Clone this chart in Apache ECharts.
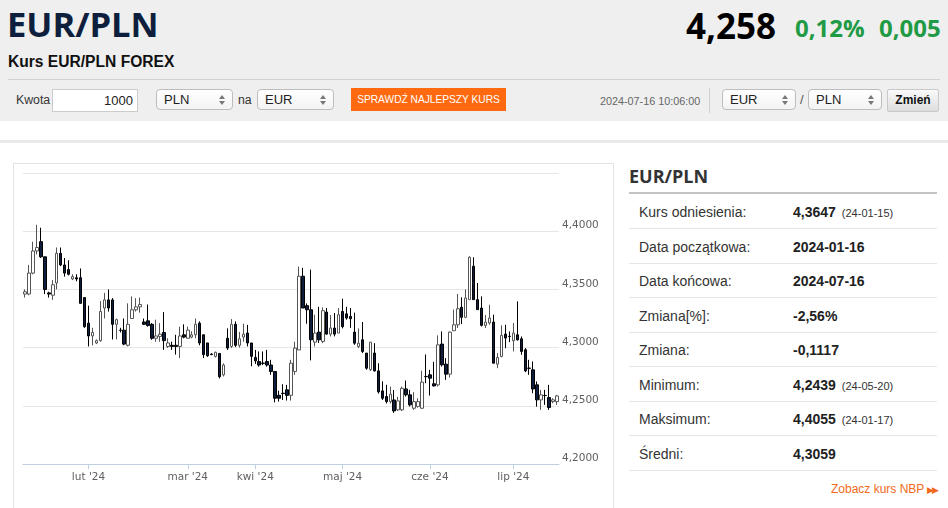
<!DOCTYPE html>
<html><head><meta charset="utf-8">
<script src="https://cdn.jsdelivr.net/npm/echarts@6/dist/echarts.min.js"></script>
<style>
*{box-sizing:border-box;margin:0;padding:0}
body{width:948px;height:508px;overflow:hidden;background:#fff;font-family:"Liberation Sans",Arial,sans-serif;position:relative;color:#333}
.abs{position:absolute;white-space:nowrap}
#head{position:absolute;left:0;top:0;width:948px;height:121px;background:#efefef}
.sel{position:absolute;height:21px;border:1px solid #bdbdbd;border-radius:4px;background:linear-gradient(#fff,#f3f3f3);font-size:13px;line-height:19px;padding-left:7px;color:#222}
.sel .ar{position:absolute;right:7px;top:5px;width:0;height:0;border-left:3px solid transparent;border-right:3px solid transparent;border-bottom:4px solid #777}
.sel .ar2{position:absolute;right:7px;top:11px;width:0;height:0;border-left:3px solid transparent;border-right:3px solid transparent;border-top:4px solid #777}
.row{position:absolute;left:629px;width:308px;height:34px;border-bottom:1px solid #e6e6e6}
.row .l{position:absolute;left:10px;top:0;line-height:34px;font-size:14px;color:#333}
.row .v{position:absolute;left:164px;top:0;line-height:34px;font-size:14px;font-weight:bold;color:#222}
.row .v small{font-size:11px;font-weight:normal;margin-left:6px;color:#333}
</style></head>
<body>
<div id="head"></div>
<div class="abs" style="left:7px;top:-2px;font-family:'Open Sans';font-weight:700;font-size:34.5px;color:#0d1f3c;line-height:52px">EUR/PLN</div>
<div class="abs" style="left:8px;top:53px;font-weight:bold;font-size:15.6px;color:#111;line-height:18px">Kurs EUR/PLN FOREX</div>
<div class="abs" style="left:686px;top:2px;font-family:'Open Sans';font-weight:700;font-size:35px;color:#000;line-height:48px">4,258</div>
<div class="abs" style="left:795px;top:11px;font-family:'Open Sans';font-weight:700;font-size:24px;color:#1f9a45;line-height:34px">0,12%</div>
<div class="abs" style="left:879px;top:11px;font-family:'Open Sans';font-weight:700;font-size:24px;color:#1f9a45;line-height:34px">0,005</div>
<div class="abs" style="left:8px;top:79px;width:932px;height:1px;background:#d2d2d2"></div>
<div class="abs" style="left:16px;top:92px;font-size:12.3px;line-height:16px;color:#333">Kwota</div>
<div class="abs" style="left:52px;top:89px;width:86px;height:23px;background:#fff;border:1px solid #ccc;font-size:13px;line-height:21px;text-align:right;padding-right:4px;color:#222">1000</div>
<div class="sel" style="left:156px;top:89px;width:77px">PLN<span class="ar"></span><span class="ar2"></span></div>
<div class="abs" style="left:238px;top:92px;font-size:12.3px;line-height:16px;color:#333">na</div>
<div class="sel" style="left:257px;top:89px;width:77px">EUR<span class="ar"></span><span class="ar2"></span></div>
<div class="abs" style="left:351px;top:88px;width:155px;height:23px;background:#ff6a10;color:#fff;font-size:10.2px;line-height:23px;text-align:center">SPRAWDŹ NAJLEPSZY KURS</div>
<div class="abs" style="left:600px;top:94px;font-size:10.8px;line-height:14px;color:#666">2024-07-16 10:06:00</div>
<div class="abs" style="left:709px;top:88px;width:1px;height:25px;background:#d0d0d0"></div>
<div class="sel" style="left:722px;top:89px;width:74px">EUR<span class="ar"></span><span class="ar2"></span></div>
<div class="abs" style="left:800px;top:91px;font-size:13px;line-height:18px;color:#555">/</div>
<div class="sel" style="left:808px;top:89px;width:74px">PLN<span class="ar"></span><span class="ar2"></span></div>
<div class="abs" style="left:887px;top:89px;width:52px;height:23px;border:1px solid #c8c8c8;border-radius:2px;background:linear-gradient(#fafafa,#dedede);font-size:12px;font-weight:bold;line-height:21px;text-align:center;color:#111">Zmień</div>
<div class="abs" style="left:0;top:140px;width:948px;height:3px;background:#e9e9e9"></div>
<div class="abs" style="left:13px;top:163px;width:601px;height:360px;border:1px solid #e4e4e4"></div>
<div id="chart" class="abs" style="left:14px;top:164px;width:598px;height:344px"></div>

<div class="abs" style="left:629px;top:163px;font-family:'Open Sans';font-weight:700;font-size:18px;line-height:26px;color:#333">EUR/PLN</div>
<div class="abs" style="left:629px;top:192px;width:308px;height:2px;background:#c4c4c4"></div>
<div id="rows"></div>
<div class="abs" style="left:831px;top:481px;font-size:12px;line-height:16px;color:#f26a1b">Zobacz kurs NBP <span style="font-size:9px;letter-spacing:-2px">▶▶</span></div>

<script>
// candles: [open, close, low, high]
const candles = [
[4.346,4.348,4.343,4.350],[4.346,4.364,4.345,4.371],[4.364,4.383,4.363,4.391],[4.383,4.386,4.380,4.4055],
[4.391,4.378,4.377,4.403],[4.378,4.350,4.346,4.378],[4.347,4.346,4.343,4.348],[4.345,4.354,4.341,4.358],
[4.3555,4.381,4.350,4.386],[4.381,4.371,4.370,4.386],[4.371,4.364,4.361,4.377],[4.367,4.363,4.362,4.375],
[4.359,4.361,4.358,4.363],[4.360,4.359,4.357,4.363],[4.360,4.338,4.338,4.368],[4.343,4.318,4.317,4.343],
[4.321,4.310,4.301,4.336],[4.310,4.313,4.302,4.317],[4.304,4.306,4.303,4.307],[4.306,4.331,4.305,4.340],
[4.334,4.341,4.325,4.347],[4.341,4.334,4.331,4.350],[4.341,4.320,4.307,4.3425],[4.320,4.324,4.307,4.325],
[4.315,4.3148,4.313,4.317],[4.315,4.303,4.302,4.325],[4.302,4.320,4.301,4.338],[4.325,4.3325,4.325,4.344],
[4.3325,4.335,4.331,4.3425],[4.335,4.337,4.330,4.343],[4.322,4.320,4.3195,4.325],[4.323,4.319,4.318,4.337],
[4.320,4.308,4.3067,4.321],[4.308,4.310,4.305,4.324],[4.3096,4.3115,4.305,4.321],[4.313,4.306,4.298,4.3305],
[4.301,4.304,4.2996,4.308],[4.302,4.301,4.298,4.305],[4.302,4.301,4.294,4.311],[4.301,4.310,4.291,4.318],
[4.311,4.309,4.308,4.320],[4.308,4.315,4.308,4.318],[4.309,4.311,4.308,4.314],[4.311,4.320,4.308,4.325],
[4.321,4.304,4.302,4.3225],[4.311,4.294,4.291,4.311],[4.304,4.293,4.292,4.304],[4.2945,4.294,4.2935,4.295],
[4.2925,4.296,4.2915,4.2965],[4.295,4.275,4.2735,4.295],[4.2766,4.285,4.2752,4.2865],[4.308,4.2996,4.298,4.3165],
[4.301,4.320,4.2996,4.3245],[4.320,4.302,4.3005,4.3225],[4.302,4.3075,4.300,4.3135],[4.309,4.3116,4.305,4.3205],
[4.3125,4.304,4.301,4.3195],[4.304,4.2925,4.284,4.304],[4.2915,4.2886,4.286,4.298],[4.288,4.285,4.2836,4.2967],
[4.2867,4.2865,4.285,4.2967],[4.288,4.285,4.2836,4.298],[4.285,4.2795,4.2766,4.2895],[4.2795,4.2565,4.253,4.2795],
[4.259,4.2565,4.2536,4.263],[4.2608,4.2605,4.255,4.2685],[4.2637,4.259,4.2545,4.268],[4.259,4.2866,4.2545,4.2895],
[4.2795,4.2996,4.2766,4.305],[4.298,4.3613,4.298,4.3696],[4.3613,4.334,4.334,4.3685],[4.336,4.3325,4.3205,4.338],
[4.3325,4.3067,4.289,4.3670],[4.3047,4.3125,4.301,4.3283],[4.3133,4.3067,4.304,4.335],[4.3053,4.3317,4.3038,4.3346],
[4.3305,4.3116,4.311,4.334],[4.3116,4.3168,4.3096,4.328],[4.3168,4.3116,4.3096,4.3297],[4.3125,4.3283,4.3125,4.334],
[4.331,4.318,4.3165,4.342],[4.329,4.3254,4.324,4.335],[4.3268,4.3248,4.317,4.334],[4.3133,4.3038,4.3024,4.330],
[4.301,4.3038,4.2996,4.3165],[4.3067,4.2967,4.2953,4.322],[4.2953,4.2823,4.281,4.2953],[4.281,4.3047,4.280,4.3047],
[4.2953,4.280,4.2795,4.3038],[4.280,4.262,4.2605,4.2866],[4.2628,4.2565,4.255,4.271],[4.258,4.2536,4.252,4.268],
[4.2536,4.260,4.252,4.2665],[4.255,4.2456,4.2439,4.2636],[4.2465,4.2542,4.2456,4.2577],[4.2465,4.265,4.2456,4.2665],
[4.2645,4.2594,4.258,4.2717],[4.2594,4.2508,4.2494,4.2637],[4.2479,4.2536,4.2465,4.2617],[4.2493,4.2536,4.2485,4.2565],
[4.2479,4.2703,4.2473,4.2801],[4.2752,4.2750,4.2694,4.2941],[4.2766,4.2737,4.2588,4.2809],[4.2689,4.2671,4.2666,4.2878],
[4.268,4.3024,4.2666,4.3105],[4.303,4.2852,4.2837,4.3139],[4.2858,4.2772,4.2723,4.291],[4.2772,4.3133,4.2743,4.3139],
[4.3145,4.3196,4.3145,4.3326],[4.3196,4.3334,4.3168,4.3461],[4.3346,4.326,4.3202,4.3432],[4.326,4.3426,4.3254,4.35],
[4.3412,4.3776,4.3412,4.3785],[4.3699,4.3412,4.3412,4.3776],[4.3412,4.3326,4.3326,4.3555],[4.334,4.3191,4.3182,4.344],
[4.3191,4.3219,4.3168,4.328],[4.3211,4.3254,4.3196,4.3368],[4.3219,4.2866,4.2866,4.3283],[4.2858,4.2915,4.2823,4.2953],
[4.2924,4.3105,4.2916,4.3191],[4.3116,4.3082,4.2995,4.3196],[4.3097,4.3095,4.3047,4.3139],[4.3059,4.3125,4.2967,4.3211],
[4.311,4.3067,4.306,4.3397],[4.3076,4.2967,4.2938,4.3096],[4.2981,4.280,4.2789,4.2996],[4.2824,4.2822,4.2766,4.2895],
[4.2809,4.2645,4.2608,4.2881],[4.268,4.2551,4.2493,4.2709],[4.2551,4.2594,4.2465,4.2637],[4.2589,4.2588,4.2508,4.2637],
[4.2571,4.2485,4.2465,4.268],[4.2536,4.2551,4.2522,4.2565],[4.2536,4.2585,4.2508,4.2594]
];
const monthTickIndex = [16, 41, 58, 80, 102, 123];
const monthTickLabels = ["lut '24", "mar '24", "kwi '24", "maj '24", "cze '24", "lip '24"];
const yTicks = {min: 4.20, max: 4.45, interval: 0.05};
const statLabels = ["Kurs odniesienia:", "Data początkowa:", "Data końcowa:", "Zmiana[%]:", "Zmiana:", "Minimum:", "Maksimum:", "Średni:"];
const statValues = ["4,3647", "2024-01-16", "2024-07-16", "-2,56%", "-0,1117", "4,2439", "4,4055", "4,3059"];
const statDates = ["(24-01-15)", "", "", "", "", "(24-05-20)", "(24-01-17)", ""];

// stats table
const rows = document.getElementById('rows');
statLabels.forEach((l, i) => {
  const d = document.createElement('div');
  d.className = 'row';
  d.style.top = (195 + i * 34.5) + 'px';
  d.innerHTML = '<span class="l">' + l + '</span><span class="v">' + statValues[i] +
    (statDates[i] ? '<small>' + statDates[i] + '</small>' : '') + '</span>';
  rows.appendChild(d);
});

const categories = candles.map((c, i) => String(i));
const chart = echarts.init(document.getElementById('chart'), null, {renderer: 'canvas'});
const showTick = (i) => monthTickIndex.indexOf(i) >= 0;
chart.setOption({
  animation: false,
  grid: {left: 9, top: 9, width: 536, height: 291, containLabel: false},
  xAxis: {
    type: 'category', data: categories, boundaryGap: true,
    axisLine: {lineStyle: {color: '#c0d0e0', width: 1}},
    axisTick: {show: true, alignWithLabel: true, interval: showTick, length: 5, lineStyle: {color: '#c0d0e0'}},
    axisLabel: {interval: showTick, margin: 8, color: '#606060', fontSize: 10.5, fontFamily: 'DejaVu Sans',
      formatter: (v, i) => { const k = monthTickIndex.indexOf(i); return k >= 0 ? monthTickLabels[k] : ''; }},
    splitLine: {show: false}
  },
  yAxis: {
    type: 'value', position: 'right', min: yTicks.min, max: yTicks.max, interval: yTicks.interval, scale: true,
    axisLine: {show: false}, axisTick: {show: false},
    splitLine: {lineStyle: {color: '#e6e6e6', width: 1}},
    axisLabel: {showMaxLabel: false, margin: 3, color: '#606060', fontSize: 10.5, fontFamily: 'DejaVu Sans',
      verticalAlign: 'bottom', formatter: v => v.toFixed(4).replace('.', ',')}
  },
  series: [{
    type: 'candlestick', data: candles, barWidth: 3,
    itemStyle: {color: '#ffffff', color0: '#0c1d3d', borderColor: '#555555', borderColor0: '#000000', borderWidth: 1}
  }]
});
</script>
</body></html>
